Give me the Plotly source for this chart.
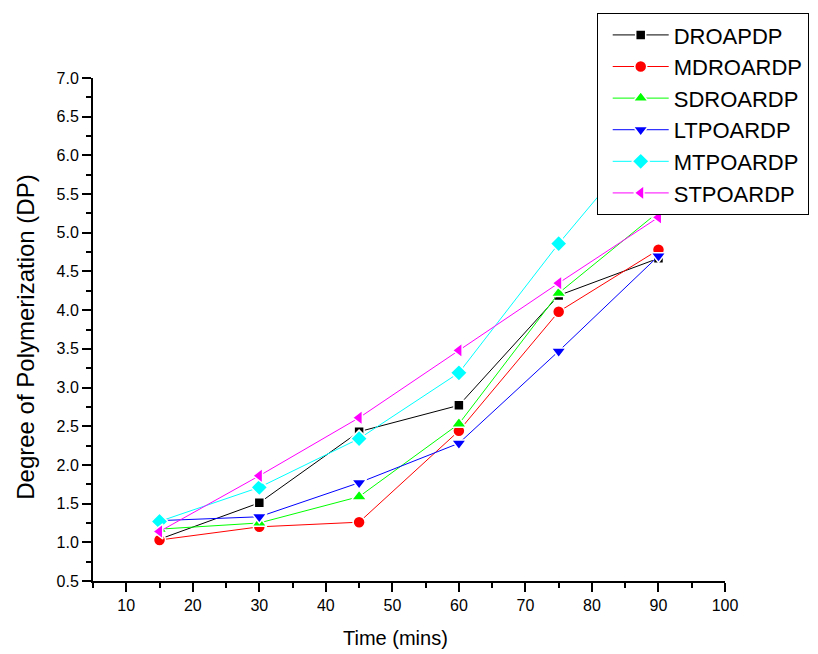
import plotly.graph_objects as go

# Données
temps = [15, 30, 45, 60, 75, 90]

droapdp = [1.04, 1.51, 2.43, 2.77, 4.19, 4.67]
mdroardp = [1.03, 1.20, 1.26, 2.44, 3.98, 4.78]
sdroardp = [1.17, 1.25, 1.59, 2.53, 4.22, 5.27]
ltpoardp = [1.28, 1.33, 1.77, 2.28, 3.47, 4.70]
mtpoardp = [1.27, 1.71, 2.34, 3.19, 4.86, 6.40]
stpoardp = [1.14, 1.86, 2.61, 3.48, 4.35, 5.20]

series = [
    ("DROAPDP", droapdp, "#000000", "square", 10),
    ("MDROARDP", mdroardp, "#ff0000", "circle", 12),
    ("SDROARDP", sdroardp, "#00ff00", "triangle-up", 13),
    ("LTPOARDP", ltpoardp, "#0000ff", "triangle-down", 13),
    ("MTPOARDP", mtpoardp, "#00ffff", "diamond", 13),
    ("STPOARDP", stpoardp, "#ff00ff", "triangle-left", 13),
]

POLICE = "Liberation Sans, Arial, sans-serif"

fig = go.Figure()

for nom, valeurs, couleur, symbole, taille in series:
    fig.add_trace(go.Scatter(
        x=temps, y=valeurs,
        mode="lines+markers",
        name=nom,
        line=dict(color=couleur, width=1),
        marker=dict(symbol=symbole, size=taille, color=couleur,
                    line=dict(color="white", width=1.5)),
    ))

axe_commun = dict(
    showline=True, linecolor="black", linewidth=2,
    ticks="outside", ticklen=9, tickwidth=1.5, tickcolor="black",
    showgrid=False, zeroline=False, mirror=False,
    tickfont=dict(family=POLICE, size=16, color="black"),
)

fig.update_xaxes(
    range=[5, 100], tick0=0, dtick=10,
    minor=dict(dtick=5, ticks="outside", ticklen=5, tickwidth=1.5, tickcolor="black"),
    **axe_commun,
)
fig.update_yaxes(
    range=[0.5, 7.0], tick0=0.5, dtick=0.5, tickformat=".1f",
    minor=dict(dtick=0.25, ticks="outside", ticklen=5, tickwidth=1.5, tickcolor="black"),
    **axe_commun,
)

# Titres d'axes placés à la main
fig.add_annotation(
    text="Time (mins)", xref="paper", yref="paper",
    x=0.479, y=-0.113, xanchor="center", yanchor="middle",
    showarrow=False, font=dict(family=POLICE, size=20, color="black"),
)
fig.add_annotation(
    text="Degree of Polymerization (DP)", xref="paper", yref="paper",
    x=-0.108, y=0.485, xanchor="center", yanchor="middle", textangle=-90,
    showarrow=False, font=dict(family=POLICE, size=24, color="black"),
)

fig.update_layout(
    width=818, height=654,
    paper_bgcolor="white", plot_bgcolor="white",
    font=dict(family=POLICE, size=16, color="black"),
    margin=dict(l=85, r=101, t=70, b=81, autoexpand=False),
    showlegend=True,
    legend=dict(
        x=0.797, y=1.129, xanchor="left", yanchor="top",
        bgcolor="white", bordercolor="black", borderwidth=1,
        font=dict(family=POLICE, size=22, color="black"),
        itemwidth=56, indentation=10,
    ),
)

fig.write_html("out.html")
